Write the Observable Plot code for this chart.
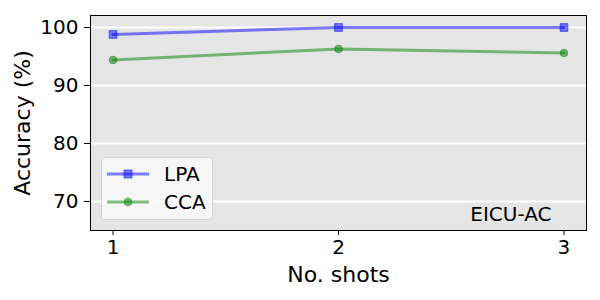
<!DOCTYPE html>
<html><head><meta charset="utf-8">
<script src="https://cdn.jsdelivr.net/npm/d3@7"></script>
<script src="https://cdn.jsdelivr.net/npm/@observablehq/plot@0.6"></script>
<style>
body{margin:0;background:#fff;}
#wrap{position:relative;width:600px;height:300px;font-family:"DejaVu Sans",sans-serif;}
#legend{position:absolute;left:101px;top:157px;width:112px;height:63px;border:1px solid #d4d4d4;border-radius:4px;background:rgba(249,249,249,0.85);box-sizing:border-box;}
.li{position:absolute;left:5px;font-size:20px;color:#000;height:24px;}
.li svg{position:absolute;left:0;top:0;}
.li span{position:absolute;left:57px;top:0;line-height:24px;white-space:nowrap;}
</style>
</head><body>
<div id="wrap"><div id="legend"></div></div>
<script>
const shots = [1, 2, 3];
const lpa = [98.8, 100.0, 100.0];
const cca = [94.4, 96.3, 95.6];
const seriesNames = ["LPA", "CCA"];
const seriesColors = ["#0000ff", "#008000"];
const yTicks = [70, 80, 90, 100];
const datasetLabel = "EICU-AC";

const rows = [];
shots.forEach((s, i) => {
  rows.push({shot: s, acc: lpa[i], series: "LPA"});
  rows.push({shot: s, acc: cca[i], series: "CCA"});
});
const lpaRows = rows.filter(d => d.series === "LPA");
const ccaRows = rows.filter(d => d.series === "CCA");

const chart = Plot.plot({
  width: 600, height: 300,
  marginLeft: 90, marginRight: 14, marginTop: 15, marginBottom: 70,
  style: {fontFamily: "DejaVu Sans, sans-serif", fontSize: "20px", color: "#000", background: "transparent"},
  x: {domain: [0.9, 3.1]},
  y: {domain: [65, 102.07]},
  marks: [
    Plot.frame({fill: "#e5e5e5"}),
    Plot.gridY(yTicks, {stroke: "#fff", strokeOpacity: 1, strokeWidth: 2}),
    Plot.axisX({ticks: shots, tickFormat: d3.format("d"), fontSize: 20, tickSize: 5, tickPadding: 4, label: null}),
    Plot.axisX({ticks: [], fontSize: 22, tickSize: 0, label: "No. shots", labelArrow: "none", labelAnchor: "center", labelOffset: 51}),
    Plot.axisY({ticks: yTicks, fontSize: 20, tickSize: 6, tickPadding: 6, label: null}),
    Plot.axisY({ticks: [], fontSize: 22, tickSize: 0, label: "Accuracy (%)", labelArrow: "none", labelAnchor: "center", labelOffset: 76}),
    Plot.line(lpaRows, {x: "shot", y: "acc", stroke: seriesColors[0], strokeOpacity: 0.5, strokeWidth: 3}),
    Plot.dot(lpaRows, {x: "shot", y: "acc", symbol: "square", r: 4.4, fill: seriesColors[0], fillOpacity: 0.5, stroke: seriesColors[0], strokeOpacity: 0.5, strokeWidth: 1}),
    Plot.line(ccaRows, {x: "shot", y: "acc", stroke: seriesColors[1], strokeOpacity: 0.5, strokeWidth: 3}),
    Plot.dot(ccaRows, {x: "shot", y: "acc", symbol: "circle", r: 3.8, fill: seriesColors[1], fillOpacity: 0.5, stroke: seriesColors[1], strokeOpacity: 0.5, strokeWidth: 1}),
    Plot.text([datasetLabel], {frameAnchor: "bottom-right", dx: -35, dy: -10, fontSize: 20, fill: "#000"}),
    Plot.frame({stroke: "#000", strokeWidth: 1})
  ]
});
document.getElementById("wrap").prepend(chart);

const legend = document.getElementById("legend");
seriesNames.forEach((name, i) => {
  const item = document.createElement("div");
  item.className = "li";
  item.style.top = (4 + i * 28) + "px";
  const c = seriesColors[i];
  const marker = i === 0
    ? `<rect x="17" y="8" width="8" height="8" fill="${c}" fill-opacity="0.5" stroke="${c}" stroke-opacity="0.5"/>`
    : `<circle cx="21" cy="12" r="3.8" fill="${c}" fill-opacity="0.5" stroke="${c}" stroke-opacity="0.5"/>`;
  item.innerHTML = `<svg width="44" height="24"><line x1="0" y1="12" x2="42" y2="12" stroke="${c}" stroke-opacity="0.5" stroke-width="3"/>${marker}</svg><span>${name}</span>`;
  legend.appendChild(item);
});
</script>
</body></html>
